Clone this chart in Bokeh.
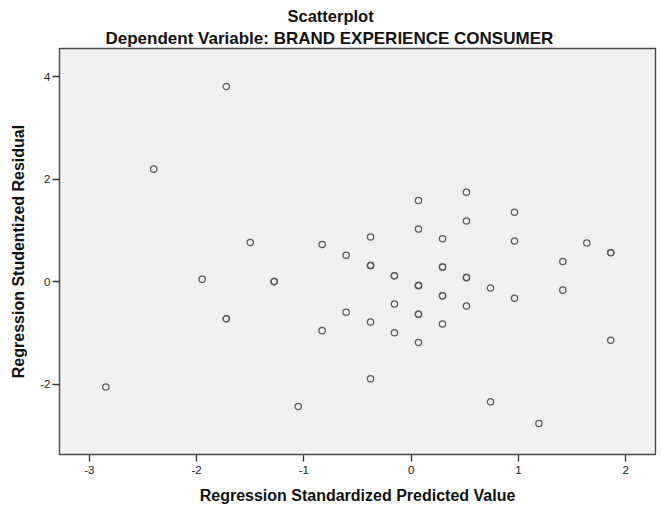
from bokeh.plotting import figure
from bokeh.models import Title, FixedTicker, ColumnDataSource
from bokeh.embed import file_html
from bokeh.resources import INLINE

# Regression Standardized Predicted Value (x) and Studentized Residual (y)
pred = [-2.846, -2.40, -1.724, -1.948, -1.50, -1.724, -1.724, -1.277, -1.277,
        -1.053, -0.83, -0.83, -0.606, -0.606,
        -0.379, -0.379, -0.379, -0.379, -0.379, -0.379,
        -0.156, -0.156, -0.156, -0.156,
        0.068, 0.068, 0.068, 0.068, 0.068, 0.068, 0.068, 0.068,
        0.292, 0.292, 0.292, 0.292, 0.292, 0.292,
        0.515, 0.515, 0.515, 0.515, 0.515,
        0.739, 0.739, 0.963, 0.963, 0.963, 1.19, 1.413, 1.413, 1.637,
        1.86, 1.86, 1.86]
resid = [-2.05, 2.20, 3.81, 0.05, 0.77, -0.72, -0.72, 0.006, 0.006,
         -2.43, 0.73, -0.95, 0.52, -0.59,
         0.875, 0.32, 0.32, -0.78, -1.89, 0.32,
         0.12, 0.12, -0.43, -0.99,
         1.59, 1.03, -0.07, -0.07, -0.07, -0.63, -0.63, -1.18,
         0.84, 0.29, 0.29, -0.27, -0.27, -0.82,
         1.75, 1.19, 0.084, 0.084, -0.47,
         -0.12, -2.34, 1.36, 0.80, -0.32, -2.76, 0.40, -0.16, 0.76,
         0.57, 0.57, -1.14]

x_ticks = [-3, -2, -1, 0, 1, 2]
y_ticks = [-2, 0, 2, 4]

FONT = "Liberation Sans"

p = figure(width=661, height=506, output_backend="svg", toolbar_location=None,
           x_range=(-3.278, 2.277), y_range=(-3.366, 4.553),
           min_border_left=59, min_border_right=6, min_border_top=48, min_border_bottom=51)
p.background_fill_color = "#f0f0f0"
p.border_fill_color = "white"
p.outline_line_color = "#4a4a4a"
p.outline_line_width = 1.4
p.grid.visible = False

src = ColumnDataSource(dict(x=pred, y=resid))
p.scatter("x", "y", source=src, marker="circle", size=6.3, fill_color=None,
          line_color="#5a5a5a", line_width=1.25)

for ax, ticks in ((p.xaxis, x_ticks), (p.yaxis, y_ticks)):
    ax.ticker = FixedTicker(ticks=ticks)
    ax.major_label_overrides = {t: str(t) for t in ticks}
    ax.minor_tick_line_color = None
    ax.axis_line_color = None
    ax.major_tick_line_color = "#333333"
    ax.major_tick_line_width = 1.3
    ax.major_tick_out = 7
    ax.major_tick_in = 0
    ax.major_label_text_font = FONT
    ax.major_label_text_font_size = "11.5px"
    ax.major_label_text_color = "#222222"
    ax.axis_label_text_font = FONT
    ax.axis_label_text_font_size = "16px"
    ax.axis_label_text_font_style = "bold"
    ax.axis_label_text_color = "#111111"

p.xaxis.axis_label = "Regression Standardized Predicted Value"
p.yaxis.axis_label = "Regression Studentized Residual"
p.yaxis.major_label_orientation = "horizontal"
p.xaxis.major_label_standoff = 4
p.yaxis.major_label_standoff = 2
p.xaxis.axis_label_standoff = 10
p.yaxis.axis_label_standoff = 10

sub = Title(text="Dependent Variable: BRAND EXPERIENCE CONSUMER", align="left",
            offset=46, text_font=FONT, text_font_size="17px", text_font_style="bold",
            text_color="#111111", standoff=2)
main = Title(text="Scatterplot", align="left", offset=228,
             text_font=FONT, text_font_size="16.5px", text_font_style="bold",
             text_color="#111111", standoff=2)
p.add_layout(sub, "above")
p.add_layout(main, "above")

open("out.html", "w").write(file_html(p, INLINE))
